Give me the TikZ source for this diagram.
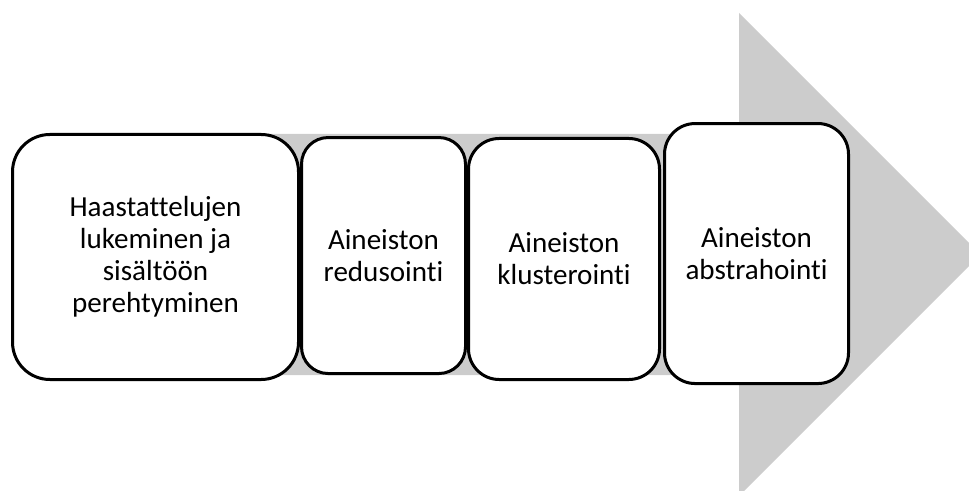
\documentclass[tikz,border=0pt]{standalone}
\usepackage{fontspec}
\setmainfont{Carlito}[Ligatures=NoCommon]
\usetikzlibrary{positioning}
\definecolor{arrowgray}{RGB}{204,204,204}

\begin{document}
\begin{tikzpicture}[
        x=0.75pt, y=-0.75pt,
        every node/.style={draw, line width=2.25pt, fill=white, inner sep=0pt, align=center, font=\fontsize{21.8}{24}\selectfont},
        phase/.style={rectangle, rounded corners=#1}
      ]
        \useasboundingbox (0,0) rectangle (969,491);

        % Background arrow
        \fill [arrowgray] (50,134) -- (739,134) -- (739,13) -- (980.5,254.5) -- (739,496) -- (739,375) -- (50,375) -- cycle;

        % Phases
        \node (reading) [phase=28pt, minimum width=214.5pt, minimum height=183.75pt] at (155.5,257) {Haastattelujen\\lukeminen ja\\sisältöön\\perehtyminen};
        \node (reduction) [phase=20pt, minimum width=123pt, minimum height=177pt, right=0pt of reading, yshift=1.1pt] {Aineiston\\redusointi};
        \node (clustering) [phase=23pt, minimum width=143.25pt, minimum height=180.75pt, right=0pt of reduction, yshift=-2.6pt] {Aineiston\\klusterointi};
        \node (abstraction) [phase=23pt, minimum width=138pt, minimum height=195pt, right=1.5pt of clustering, yshift=4.1pt] {Aineiston\\abstrahointi};
      \end{tikzpicture}
\end{document}
